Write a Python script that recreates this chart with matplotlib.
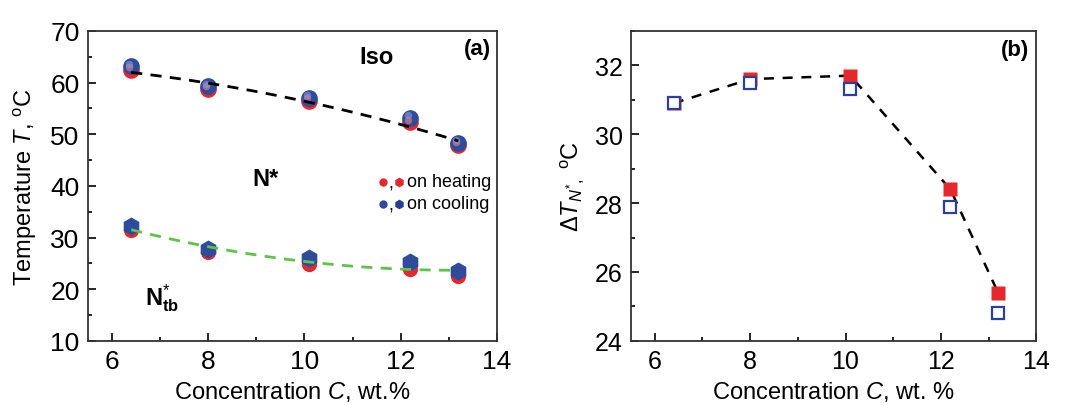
import numpy as np
import matplotlib
matplotlib.use("Agg")
from matplotlib import pyplot as plt
from matplotlib.ticker import MultipleLocator
from matplotlib.transforms import ScaledTranslation

plt.rcParams['font.family'] = ['Liberation Sans', 'DejaVu Sans']
plt.rcParams['mathtext.fontset'] = 'custom'
plt.rcParams['mathtext.rm'] = 'Liberation Sans'
plt.rcParams['mathtext.it'] = 'Liberation Sans:italic'
plt.rcParams['mathtext.bf'] = 'Liberation Sans:bold'

# concentration, wt.%
conc = [6.4, 8.0, 10.1, 12.2, 13.2]

# (a) transition temperatures
iso_heat = [62.5, 58.8, 56.5, 52.3, 48.0]
iso_cool = [63.2, 59.3, 57.1, 53.2, 48.3]
tb_heat = [31.5, 27.2, 24.8, 23.9, 22.6]
tb_cool = [32.3, 27.8, 26.0, 25.3, 23.6]

# (b) width of the N* range
dT_heat = [30.9, 31.6, 31.7, 28.4, 25.4]
dT_cool = [30.9, 31.5, 31.3, 27.9, 24.8]

RED = '#e4282c'
BLUE = '#2f4b9c'
DBLUE = '#283f8e'


def spheres(ax, x, y, color, size, light):
    ax.plot(x, y, 'o', ms=size, color=color, mec='none', zorder=3)
    # lighter cap on the upper-left gives a shaded ball look
    shift = ScaledTranslation(-1.8 / 72, 1.8 / 72, ax.figure.dpi_scale_trans)
    ax.plot(x, y, 'o', ms=size * 0.45, color=light, alpha=0.6, mec='none',
            zorder=4, transform=ax.transData + shift)


fig = plt.figure(figsize=(10.72, 4.06), dpi=100)
ax1 = fig.add_axes([0.082, 0.158, 0.3815, 0.7635])
ax2 = fig.add_axes([0.5886, 0.158, 0.378, 0.7635])

# ---- panel (a)
xs = np.linspace(conc[0], conc[-1], 100)
p_iso = np.polyfit(conc, iso_heat, 2)
p_tb = np.polyfit(conc, np.add(tb_heat, tb_cool) / 2, 2)
ax1.plot(xs, np.polyval(p_iso, xs), '--', color='black', lw=2, dashes=(4, 3), zorder=5)
ax1.plot(xs, np.polyval(p_tb, xs), '--', color='#5cc448', lw=2, dashes=(4, 3), zorder=5)

spheres(ax1, conc, iso_heat, RED, 12, '#f08080')
spheres(ax1, conc, iso_cool, BLUE, 12, '#8a9bd6')
ax1.plot(conc, tb_heat, 'o', ms=11, color=RED, mec='none', zorder=3)
ax1.plot(conc, tb_cool, 'h', ms=13, color=BLUE, mec='none', zorder=3)

ax1.set_xlim(5.5, 14)
ax1.set_ylim(10, 70)
ax1.xaxis.set_major_locator(MultipleLocator(2))
ax1.xaxis.set_minor_locator(MultipleLocator(1))
ax1.yaxis.set_major_locator(MultipleLocator(10))
ax1.yaxis.set_minor_locator(MultipleLocator(5))
ax1.set_xlabel('Concentration $C$, wt.%', fontsize=17, labelpad=4)
ax1.set_ylabel('Temperature $T$, $^{\\rm o}$C', fontsize=17, labelpad=8)

ax1.text(11.5, 65, 'Iso', fontsize=17, fontweight='bold', ha='center', va='center')
ax1.text(13.6, 66.6, '(a)', fontsize=16, fontweight='bold', ha='center', va='center')
ax1.text(9.2, 41.5, 'N*', fontsize=17, fontweight='bold', ha='center', va='center')
ax1.text(7.05, 18.5, '$\\mathbf{N}^{*}_{\\mathbf{tb}}$', fontsize=17, ha='center', va='center')

# legend drawn by hand: two marker kinds per row
leg_rows = [(0.513, 'on heating', RED, RED), (0.442, 'on cooling', BLUE, DBLUE)]
for yy, lab, c1, c2 in leg_rows:
    ax1.plot([0.722], [yy], 'o', ms=6, color=c1, mec='none', transform=ax1.transAxes)
    ax1.text(0.735, yy - 0.005, ',', fontsize=13, ha='left', va='center', transform=ax1.transAxes)
    ax1.plot([0.76], [yy], 'h', ms=7, color=c2, mec='none', transform=ax1.transAxes)
    ax1.text(0.78, yy, lab, fontsize=13, ha='left', va='center', transform=ax1.transAxes)

# ---- panel (b)
ax2.plot(conc, dT_heat, '--', color='black', lw=1.8, dashes=(4, 3.5), zorder=2)
ax2.plot(conc, dT_heat, 's', ms=10, color=RED, mec='none', zorder=3)
ax2.plot(conc, dT_cool, 's', ms=9, mfc='white', mec='#2a40a0', mew=1.6, zorder=4)

ax2.set_xlim(5.5, 14)
ax2.set_ylim(24, 33)
ax2.xaxis.set_major_locator(MultipleLocator(2))
ax2.xaxis.set_minor_locator(MultipleLocator(1))
ax2.yaxis.set_major_locator(MultipleLocator(2))
ax2.yaxis.set_minor_locator(MultipleLocator(1))
ax2.set_xlabel('Concentration $C$, wt. %', fontsize=17, labelpad=4)
ax2.set_ylabel('$\\Delta T_{N^{*},}$ $^{\\rm o}$C', fontsize=17, labelpad=6)
ax2.text(13.55, 32.45, '(b)', fontsize=16, fontweight='bold', ha='center', va='center')

for ax in (ax1, ax2):
    ax.tick_params(which='both', direction='in', labelsize=19, width=1.2)
    ax.tick_params(which='major', length=6, pad=6)
    ax.tick_params(which='minor', length=3)
    for s in ax.spines.values():
        s.set_linewidth(1.3)
        s.set_color('#333333')
ax2.tick_params(labelsize=18)

fig.savefig('out.png', dpi=100)
